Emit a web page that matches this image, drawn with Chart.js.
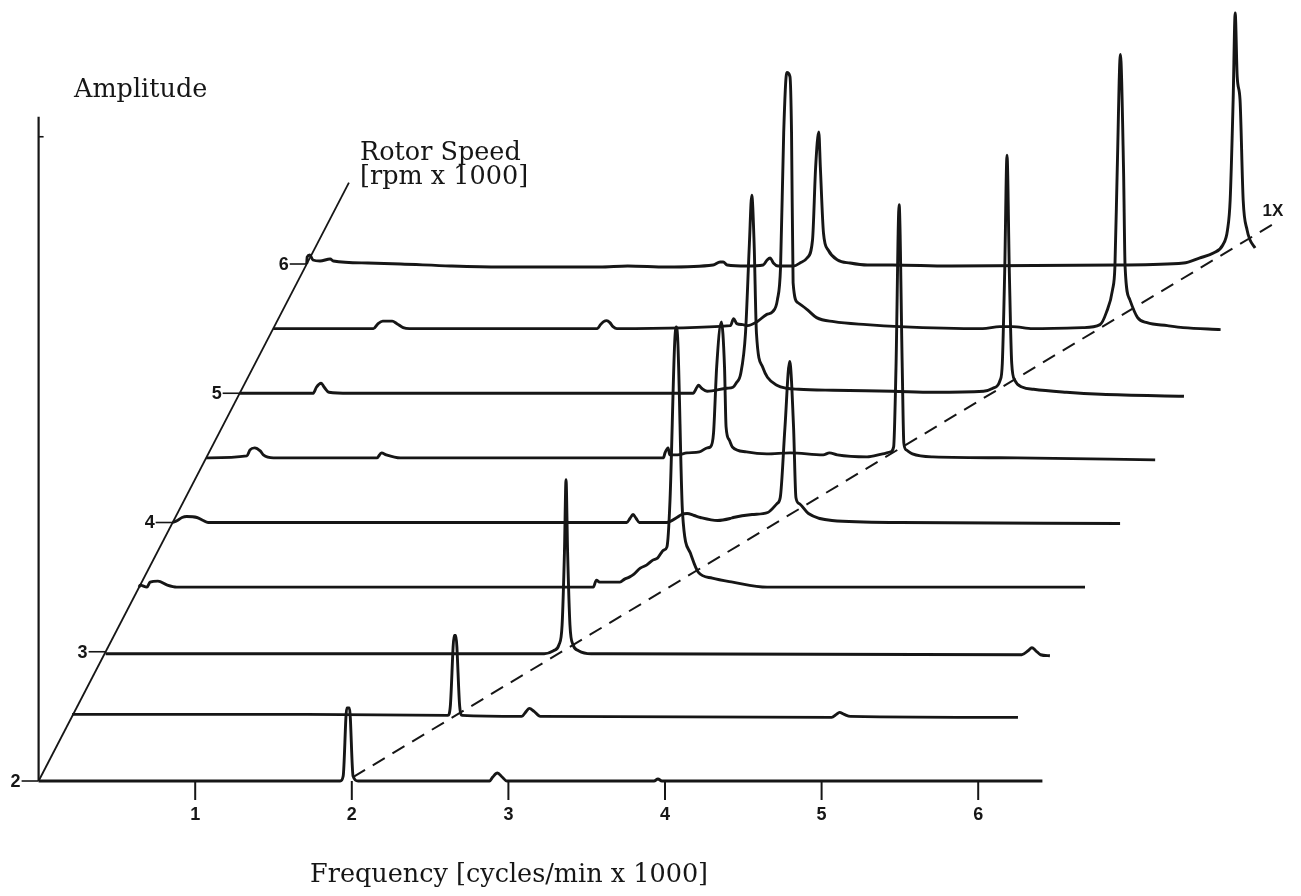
<!DOCTYPE html>
<html>
<head>
<meta charset="utf-8">
<script src="https://cdn.jsdelivr.net/npm/chart.js@4/dist/chart.umd.min.js"></script>
<style>
  html, body { margin: 0; padding: 0; background: #fff; }
  #wrap { width: 1301px; height: 896px; }
</style>
</head>
<body>
<div id="wrap"><canvas id="waterfall" width="1301" height="896"></canvas></div>
<script>
// rotor speeds (rpm x 1000), one spectrum each, front to back
const speeds = [2, 2.5, 3, 3.5, 4, 4.5, 5, 5.5, 6];
const freqTicks = [1, 2, 3, 4, 5, 6];
const freqTickLabels = ["1", "2", "3", "4", "5", "6"];
const speedTicks = [2, 3, 4, 5, 6];
const speedTickLabels = ["2", "3", "4", "5", "6"];

// spectra: frequency (cycles/min x 1000) and amplitude
const freq20 = [0, 1.90, 1.926, 1.945, 1.968, 1.985, 2.008, 2.04, 2.88, 2.90, 2.93, 2.96, 2.99, 3.93, 3.955, 3.98, 6.41];
const amp20 = [0, 0, 0, 0.05, 0.73, 0.73, 0.05, 0, 0, 0.04, 0.08, 0.04, 0, 0, 0.02, 0, 0];

const freq25 = [0, 1.5, 2.40, 2.415, 2.44, 2.45, 2.475, 2.49, 2.87, 2.90, 2.92, 2.95, 2.99, 4.85, 4.88, 4.90, 4.93, 4.97, 6.04];
const amp25 = [0.02, 0.02, 0.01, 0.10, 0.81, 0.81, 0.10, 0.01, 0, 0.05, 0.08, 0.05, 0, -0.01, 0.02, 0.04, 0.02, 0, -0.01];

const freq30 = [0, 2.80, 2.86, 2.895, 2.915, 2.93, 2.94, 2.95, 2.965, 2.985, 3.02, 3.10, 3.20, 5.85, 5.89, 5.915, 5.94, 5.97, 6.03];
const amp30 = [-0.02, -0.02, 0.01, 0.07, 0.27, 1.0, 1.72, 1.0, 0.27, 0.07, 0.01, -0.02, -0.02, -0.03, 0.01, 0.04, 0.01, -0.03, -0.04];

const freq35 = [0, 0.006, 0.05, 0.07, 0.12, 0.18, 0.24, 0.33, 2.90, 2.92, 2.94, 3.07, 3.10, 3.13, 3.16, 3.20, 3.24, 3.28, 3.31, 3.35, 3.37, 3.39, 3.42, 3.43, 3.44, 3.47, 3.52, 3.57, 3.66, 3.79, 4.01, 6.04];
const amp35 = [0, 0.02, 0, 0.05, 0.06, 0.02, 0, 0, 0, 0.07, 0.05, 0.05, 0.08, 0.10, 0.13, 0.19, 0.22, 0.27, 0.29, 0.37, 0.40, 0.87, 2.45, 2.60, 2.45, 0.74, 0.34, 0.15, 0.09, 0.05, 0, 0];

const freq40 = [0, 0.03, 0.06, 0.09, 0.155, 0.195, 0.226, 0.35, 2.90, 2.92, 2.94, 2.96, 2.98, 3.155, 3.22, 3.25, 3.285, 3.33, 3.37, 3.48, 3.56, 3.58, 3.70, 3.80, 3.86, 3.88, 3.91, 3.94, 3.965, 3.98, 4.00, 4.06, 4.21, 4.645, 6.05];
const amp40 = [0, 0.02, 0.05, 0.06, 0.05, 0.02, 0, 0, 0, 0.04, 0.08, 0.04, 0, 0, 0.05, 0.08, 0.09, 0.07, 0.05, 0.02, 0.04, 0.05, 0.08, 0.10, 0.19, 0.25, 0.95, 1.61, 0.95, 0.25, 0.19, 0.09, 0.02, 0, -0.01];

const freq45 = [0, 0.26, 0.28, 0.31, 0.345, 0.365, 0.43, 1.09, 1.12, 1.15, 1.24, 2.92, 2.93, 2.95, 2.96, 3.01, 3.07, 3.15, 3.20, 3.22, 3.24, 3.26, 3.29, 3.31, 3.32, 3.34, 3.36, 3.45, 3.58, 3.73, 3.94, 3.98, 4.03, 4.22, 4.32, 4.37, 4.39, 4.405, 4.425, 4.445, 4.455, 4.47, 4.51, 4.64, 5.18, 6.06];
const amp45 = [0, 0.02, 0.08, 0.10, 0.07, 0.03, 0, 0, 0.05, 0.03, 0, 0, 0.05, 0.10, 0.03, 0.03, 0.05, 0.06, 0.10, 0.11, 0.25, 0.91, 1.36, 0.91, 0.31, 0.18, 0.11, 0.06, 0.04, 0.05, 0.03, 0.05, 0.03, 0.01, 0.04, 0.06, 0.11, 0.90, 2.53, 0.90, 0.15, 0.08, 0.04, 0.01, 0, -0.02];

const freq50 = [0, 0.175, 0.47, 0.49, 0.52, 0.54, 0.57, 0.70, 2.895, 2.92, 2.93, 2.95, 2.985, 3.11, 3.15, 3.17, 3.20, 3.23, 3.255, 3.27, 3.285, 3.30, 3.34, 3.37, 3.43, 3.49, 3.57, 3.79, 4.17, 4.43, 4.75, 4.81, 4.856, 4.87, 4.885, 4.90, 4.915, 4.93, 4.95, 5.00, 5.07, 5.28, 5.50, 6.03];
const amp50 = [0, 0, 0, 0.06, 0.10, 0.06, 0.01, 0, 0, 0.06, 0.08, 0.05, 0.02, 0.05, 0.06, 0.10, 0.20, 0.60, 1.5, 1.98, 1.5, 0.60, 0.26, 0.16, 0.08, 0.05, 0.04, 0.03, 0.02, 0.01, 0.02, 0.05, 0.13, 0.30, 1.2, 2.38, 1.2, 0.30, 0.13, 0.06, 0.04, 0.01, -0.01, -0.03];

const freq55 = [0, 0.64, 0.67, 0.70, 0.76, 0.79, 0.83, 0.87, 2.07, 2.09, 2.11, 2.13, 2.15, 2.17, 2.195, 2.92, 2.94, 2.96, 2.999, 3.03, 3.09, 3.15, 3.19, 3.22, 3.24, 3.26, 3.28, 3.30, 3.31, 3.32, 3.35, 3.41, 3.47, 3.58, 3.79, 4.00, 4.53, 4.64, 4.72, 4.85, 5.17, 5.28, 5.32, 5.36, 5.375, 5.39, 5.41, 5.43, 5.44, 5.47, 5.52, 5.58, 5.71, 5.81, 6.05];
const amp55 = [0, 0, 0.05, 0.075, 0.075, 0.05, 0.01, 0, 0, 0.04, 0.07, 0.08, 0.06, 0.02, 0, 0.03, 0.10, 0.05, 0.04, 0.03, 0.07, 0.14, 0.17, 0.29, 0.62, 1.96, 2.56, 2.52, 1.96, 0.46, 0.26, 0.19, 0.11, 0.07, 0.04, 0.02, 0, 0.02, 0.02, 0, 0.01, 0.04, 0.16, 0.39, 0.62, 1.6, 2.74, 1.6, 0.62, 0.29, 0.11, 0.06, 0.03, 0.01, -0.01];

const freq60 = [0, 0.003, 0.02, 0.04, 0.085, 0.15, 0.17, 0.39, 0.60, 0.92, 1.235, 1.87, 2.05, 2.30, 2.595, 2.64, 2.66, 2.685, 2.81, 2.915, 2.94, 2.96, 2.98, 3.01, 3.11, 3.15, 3.195, 3.23, 3.25, 3.27, 3.28, 3.30, 3.33, 3.39, 3.47, 3.58, 3.74, 4.10, 5.18, 5.60, 5.70, 5.79, 5.85, 5.88, 5.897, 5.916, 5.929, 5.942, 5.96, 5.98, 6.005, 6.024, 6.056];
const amp60 = [0, 0.07, 0.09, 0.04, 0.03, 0.05, 0.03, 0.01, 0, -0.02, -0.03, -0.03, -0.02, -0.03, -0.01, 0.02, 0.02, -0.01, -0.02, -0.01, 0.04, 0.06, 0.01, -0.02, -0.02, 0.01, 0.06, 0.24, 0.97, 1.32, 0.97, 0.31, 0.14, 0.04, 0.01, -0.01, -0.01, -0.02, -0.01, 0.01, 0.06, 0.11, 0.19, 0.34, 0.64, 1.64, 2.51, 1.87, 1.64, 0.64, 0.34, 0.24, 0.16];

// 1X line (frequency = running speed), dashed
const oneXSpeed = [2.03, 6.32];
const oneXFreq = [1.995, 6.05];

// axis extents
const speedAxisTop = 6.63;
const ampAxisTop = 6.64;
const ampAxisMark = 6.44;

const spectra = [
  [freq20, amp20], [freq25, amp25], [freq30, amp30], [freq35, amp35], [freq40, amp40],
  [freq45, amp45], [freq50, amp50], [freq55, amp55], [freq60, amp60]
];

// oblique projection: speed axis leans right and up
const skew = 0.428;
const ampScale = 0.774;
function project(f, s, a) {
  return { x: f + skew * (s - 2), y: (s - 2) + ampScale * a };
}

const ink = "#161616";
const datasets = [];

spectra.forEach((sp, i) => {
  const s = speeds[i];
  datasets.push({
    data: sp[0].map((f, j) => project(f, s, sp[1][j])),
    borderColor: ink,
    borderWidth: 2.9,
    pointRadius: 0,
    cubicInterpolationMode: "monotone",
    fill: false,
  });
});

// rotor speed axis
datasets.push({
  data: [project(0, 2, 0), project(0, speedAxisTop, 0)],
  borderColor: ink,
  borderWidth: 1.8,
  pointRadius: 0,
});
// amplitude axis
datasets.push({
  data: [project(0, 2, 0), project(0, 2, ampAxisTop)],
  borderColor: ink,
  borderWidth: 2.2,
  pointRadius: 0,
});
// 1X
datasets.push({
  data: oneXFreq.map((f, i) => project(f, oneXSpeed[i], 0)),
  borderColor: ink,
  borderWidth: 2,
  borderDash: [14, 9],
  pointRadius: 0,
});

const decorations = {
  id: "decorations",
  afterDatasetsDraw(chart) {
    const ctx = chart.ctx;
    const xs = chart.scales.x, ys = chart.scales.y;
    const px = (f, s, a) => {
      const p = project(f, s, a);
      return { x: xs.getPixelForValue(p.x), y: ys.getPixelForValue(p.y) };
    };
    ctx.save();
    ctx.strokeStyle = ink;
    ctx.fillStyle = ink;
    ctx.lineWidth = 2;

    // frequency ticks
    ctx.font = "bold 18px 'Liberation Sans', Arial, sans-serif";
    ctx.textAlign = "center";
    ctx.textBaseline = "alphabetic";
    freqTicks.forEach((f, i) => {
      const p0 = px(f, 2, 0), p1 = px(f, 2, -0.19);
      ctx.beginPath();
      ctx.moveTo(p0.x, p0.y);
      ctx.lineTo(p1.x, p1.y);
      ctx.stroke();
      ctx.fillText(freqTickLabels[i], p0.x, p0.y + 39);
    });

    // speed ticks
    ctx.textAlign = "right";
    ctx.textBaseline = "middle";
    ctx.lineWidth = 1.6;
    speedTicks.forEach((s, i) => {
      const p = px(0, s, 0);
      ctx.beginPath();
      ctx.moveTo(p.x - 17, p.y);
      ctx.lineTo(p.x, p.y);
      ctx.stroke();
      ctx.fillText(speedTickLabels[i], p.x - 18, p.y + 1);
    });

    // little mark near the top of the amplitude axis
    const m = px(0, 2, ampAxisMark);
    ctx.beginPath();
    ctx.moveTo(m.x, m.y);
    ctx.lineTo(m.x + 5, m.y);
    ctx.stroke();

    // 1X label
    const e = px(oneXFreq[1], oneXSpeed[1], 0);
    ctx.textAlign = "left";
    ctx.textBaseline = "alphabetic";
    ctx.font = "bold 17px 'Liberation Sans', Arial, sans-serif";
    ctx.fillText("1X", e.x - 13, e.y - 7);

    // titles
    ctx.font = "25.5px 'DejaVu Serif', serif";
    ctx.fillText("Amplitude", 74, 97);
    ctx.fillText("Rotor Speed", 360, 160);
    ctx.fillText("[rpm x 1000]", 360, 184);
    ctx.fillText("Frequency [cycles/min x 1000]", 310, 882);
    ctx.restore();
  },
};

new Chart(document.getElementById("waterfall"), {
  type: "line",
  data: { datasets: datasets },
  options: {
    responsive: false,
    animation: false,
    events: [],
    layout: { padding: 0 },
    plugins: { legend: { display: false }, tooltip: { enabled: false } },
    scales: {
      x: { type: "linear", min: -0.2465, max: 8.0613, display: false },
      y: { type: "linear", min: -0.8897, max: 6.0426, display: false },
    },
  },
  plugins: [decorations],
});
</script>
</body>
</html>
